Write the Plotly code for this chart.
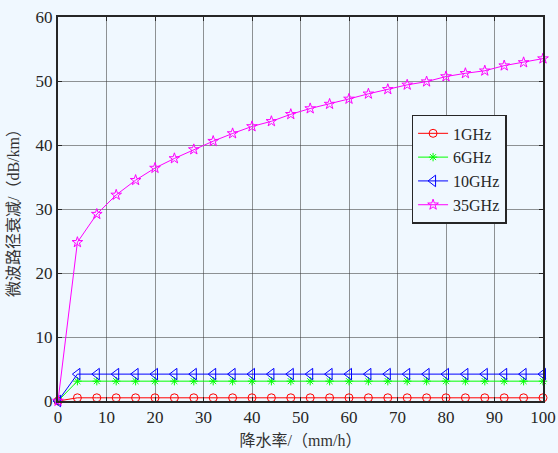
import plotly.graph_objects as go

rain = [0, 4, 8, 12, 16, 20, 24, 28, 32, 36, 40, 44, 48, 52, 56, 60, 64, 68, 72, 76, 80, 84, 88, 92, 96, 100]
att_1ghz = [0] + [0.5] * 25
att_6ghz = [0] + [3.1] * 25
att_10ghz = [0] + [4.2] * 25
att_35ghz = [0, 24.8, 29.2, 32.2, 34.5, 36.4, 37.9, 39.3, 40.6, 41.8, 42.9, 43.7, 44.8, 45.7,
             46.4, 47.2, 48.0, 48.7, 49.4, 49.9, 50.7, 51.2, 51.6, 52.4, 52.9, 53.5]
names = ["1GHz", "6GHz", "10GHz", "35GHz"]
x_ticks = [0, 10, 20, 30, 40, 50, 60, 70, 80, 90, 100]
y_ticks = [0, 10, 20, 30, 40, 50, 60]

FONT = "Liberation Serif, Times New Roman, Noto Sans CJK SC"
BG = "#F0F8FF"

series = [
    (att_1ghz, "#FF0000", "circle-open", 8),
    (att_6ghz, "#00FF00", "asterisk-open", 7),
    (att_10ghz, "#0000FF", "triangle-left-open", 10),
    (att_35ghz, "#FF00FF", "star-open", 8),
]

fig = go.Figure()
for name, (vals, color, sym, sz) in zip(names, series):
    fig.add_trace(go.Scatter(
        x=rain, y=vals, name=name, mode="lines+markers",
        line=dict(color=color, width=1),
        marker=dict(symbol=sym, size=sz, color=color, line=dict(color=color, width=1)),
        cliponaxis=False,
    ))

axis_common = dict(
    showline=True, linecolor="#262626", linewidth=2, mirror="ticks",
    ticks="inside", ticklen=4, tickcolor="#262626",
    showgrid=True, gridcolor="rgba(60,60,60,0.55)", gridwidth=1,
    zeroline=False, tickfont=dict(family=FONT, size=17, color="#262626"),
    automargin=False,
)

fig.update_xaxes(range=[0, 100], tickvals=x_ticks, ticktext=[str(v) for v in x_ticks],
                 title=dict(text="降水率/（mm/h）", font=dict(family=FONT, size=16, color="#333333"), standoff=8),
                 **axis_common)
fig.update_yaxes(range=[0, 60], tickvals=y_ticks, ticktext=[str(v) for v in y_ticks],
                 title=dict(text="微波路径衰减/（dB/km）", font=dict(family=FONT, size=16, color="#333333"), standoff=12),
                 **axis_common)

fig.update_layout(
    width=558, height=453,
    margin=dict(l=58, r=15, t=17, b=52),
    paper_bgcolor=BG, plot_bgcolor=BG,
    showlegend=True,
    legend=dict(
        x=0.729, y=0.745, xanchor="left", yanchor="top",
        bgcolor=BG, bordercolor="#262626", borderwidth=1.5,
        font=dict(family=FONT, size=16, color="#262626"),
        tracegroupgap=0, itemsizing="trace",
    ),
)

fig.write_html(
    "out.html",
    config={"displayModeBar": False},
    post_script="document.body.style.margin='0';document.body.style.padding='0';"
                "document.body.style.background='#F0F8FF';document.body.style.overflow='hidden';",
)
